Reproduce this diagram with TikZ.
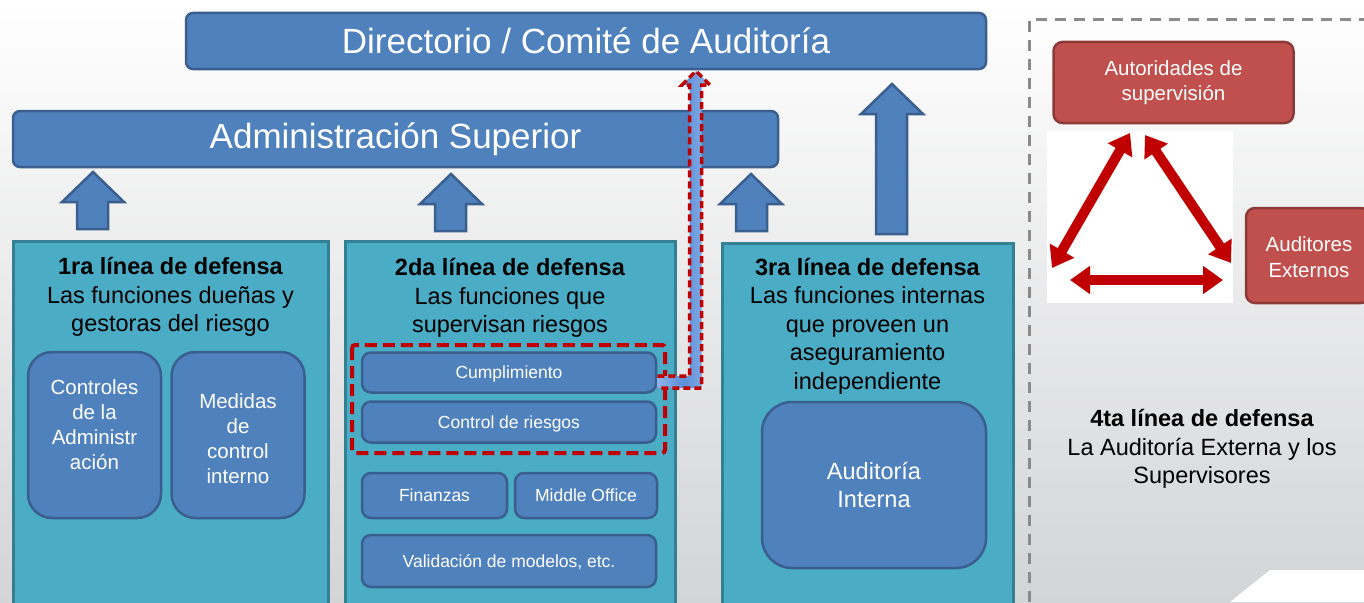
\documentclass[tikz,border=0pt]{standalone}
\usepackage{fontspec}
\setmainfont{Liberation Sans}
\usetikzlibrary{arrows.meta}
\definecolor{bfill}{HTML}{4F81BD}
\definecolor{bline}{HTML}{3A5F8E}
\definecolor{tfill}{HTML}{4BACC6}
\definecolor{tline}{HTML}{357F93}
\definecolor{rfill}{HTML}{C0504D}
\definecolor{rline}{HTML}{8C3A38}
\definecolor{dred}{HTML}{C00000}
\definecolor{lblue}{HTML}{8DB3E8}
\definecolor{lblue2}{HTML}{5B8FD8}
\definecolor{bggray}{HTML}{D3D4D6}
\definecolor{dgray}{HTML}{8A8A8A}
\begin{document}
\begin{tikzpicture}[x=1pt,y=-1pt,
  bluebox/.style={draw=bline, fill=bfill, line width=2.5pt, text=white, inner sep=0pt, align=center},
  smallbox/.style={bluebox, rounded corners=9pt, font=\fontsize{17.5}{20}\selectfont, text height=12.5pt, text depth=0pt},
  tealbox/.style={draw=tline, fill=tfill, line width=3pt, inner sep=0pt},
  redbox/.style={draw=rline, fill=rfill, line width=2.5pt, rounded corners=9pt, text=white, inner sep=0pt, align=center},
  blockarr/.style={draw=bline, fill=bfill, line width=2.5pt, line join=miter},
  hdr/.style={align=center, font=\fontsize{23.5}{28.5}\selectfont, text=black},
  tri/.style={draw=dred, line width=10pt, {Triangle[length=20pt,width=27pt]}-{Triangle[length=20pt,width=27pt]}}
]
\useasboundingbox (0,0) rectangle (1364,602);
\clip (0,0) rectangle (1364,602);
% background
\shade[top color=white, bottom color=bggray] (0,0) rectangle (1364,602);
\fill[white] (1230,602) -- (1270,570) -- (1364,570) -- (1364,602) -- cycle;
% 4th line dashed frame
\draw[dgray, line width=3pt, dash pattern=on 11pt off 8pt] (1029,640) -- (1029,20) -- (1400,20);

% top boxes
\node[bluebox, rounded corners=7pt, minimum width=800pt, minimum height=56pt, font=\fontsize{35}{40}\selectfont] (dir) at (586,41) {Directorio / Comité de Auditoría};
\node[bluebox, rounded corners=7pt, minimum width=765pt, minimum height=56pt, font=\fontsize{35}{40}\selectfont] (adm) at (395.5,139) {Administración Superior};

% line boxes
\node[tealbox, minimum width=315pt, minimum height=380pt] (l1) at (170.5,431) {};
\node[tealbox, minimum width=330pt, minimum height=380pt] (l2) at (510,431) {};
\node[tealbox, minimum width=291pt, minimum height=380pt] (l3) at (867.5,433) {};

\node[hdr] (t1) at (170.5,297) {\textbf{1ra línea de defensa}\\Las funciones dueñas y\\gestoras del riesgo};
\node[hdr] (t2) at (510,298) {\textbf{2da línea de defensa}\\Las funciones que\\supervisan riesgos};
\node[hdr] (t3) at (867.5,326) {\textbf{3ra línea de defensa}\\Las funciones internas\\que proveen un\\aseguramiento\\independiente};

% 1st line inner boxes
\node[bluebox, rounded corners=24pt, minimum width=133pt, minimum height=166pt] (ctrl) at (94.5,435) {};
\node[align=center, text=white, font=\fontsize{20.5}{25}\selectfont] (ctrlt) at (94.5,425) {Controles\\de la\\Administr\\ación};
\node[bluebox, rounded corners=24pt, minimum width=133pt, minimum height=166pt] (med) at (238,435) {};
\node[align=center, text=white, font=\fontsize{20.5}{25}\selectfont] (medt) at (238,439) {Medidas\\de\\control\\interno};

% 2nd line inner boxes
\node[smallbox, minimum width=294pt, minimum height=40pt] (cum) at (509,372.5) {Cumplimiento};
\node[smallbox, minimum width=294pt, minimum height=41pt] (crie) at (509,422) {Control de riesgos};
\node[smallbox, minimum width=145pt, minimum height=45pt] (fin) at (434.5,495.5) {Finanzas};
\node[smallbox, minimum width=142pt, minimum height=45pt] (mid) at (586,495.5) {Middle Office};
\node[smallbox, minimum width=294pt, minimum height=52pt] (val) at (509,561) {Validación de modelos, etc.};
\draw[dred, line width=4pt, rounded corners=3pt, dash pattern=on 12pt off 6pt] (352,345) rectangle (665,453);

% 3rd line inner box
\node[bluebox, rounded corners=30pt, minimum width=224pt, minimum height=166pt, font=\fontsize{23.5}{28}\selectfont] (ai) at (874,485) {Auditoría\\Interna};

% block arrows
\draw[blockarr] (77,229) -- (77,202) -- (62,202) -- (93,172) -- (124,202) -- (108,202) -- (108,229) -- cycle;
\draw[blockarr] (435,231) -- (435,204) -- (420,204) -- (451,174) -- (482,204) -- (466,204) -- (466,231) -- cycle;
\draw[blockarr] (736,231) -- (736,204) -- (720,204) -- (751,174) -- (782,204) -- (767,204) -- (767,231) -- cycle;
\draw[blockarr] (876,234) -- (876,114) -- (861,114) -- (892,84) -- (923,114) -- (907,114) -- (907,234) -- cycle;

% dashed escalation arrow
\coordinate (esc) at (cum.east);
\shade[left color=lblue, right color=lblue, middle color=lblue2] (esc |- 0,376) -- (689.5,376) -- (689.5,85) -- (682,85) -- (696,71) -- (710,85) -- (701.5,85) -- (701.5,388) -- (esc |- 0,388) -- cycle;
\draw[dred, line width=3.5pt, dash pattern=on 7pt off 4pt] (esc |- 0,376) -- (689.5,376) -- (689.5,85) -- (682,85) -- (696,71) -- (710,85) -- (701.5,85) -- (701.5,388) -- (esc |- 0,388);

% 4th line
\node[redbox, minimum width=240pt, minimum height=81pt, font=\fontsize{20.5}{25}\selectfont] (aut) at (1173.5,82.5) {Autoridades de\\supervisión};
\node[redbox, minimum width=124pt, minimum height=95pt] (ext) at (1308,255.5) {};
\node[align=center, text=white, font=\fontsize{20.5}{26}\selectfont] (extt) at (1309,257) {Auditores\\Externos};
\fill[white] (1047,131) rectangle (1233,303);
\coordinate (ta) at (1130,133);
\coordinate (tb) at (1145,135);
\coordinate (tl) at (1052,268);
\coordinate (tr) at (1231,263);
\coordinate (bl) at (1070,280);
\coordinate (br) at (1223,280);
\draw[tri] (ta) -- (tl);
\draw[tri] (tb) -- (tr);
\draw[tri] (bl) -- (br);
\node[hdr] (t4) at (1202,449) {\textbf{4ta línea de defensa}\\La Auditoría Externa y los\\Supervisores};
\end{tikzpicture}
\end{document}
